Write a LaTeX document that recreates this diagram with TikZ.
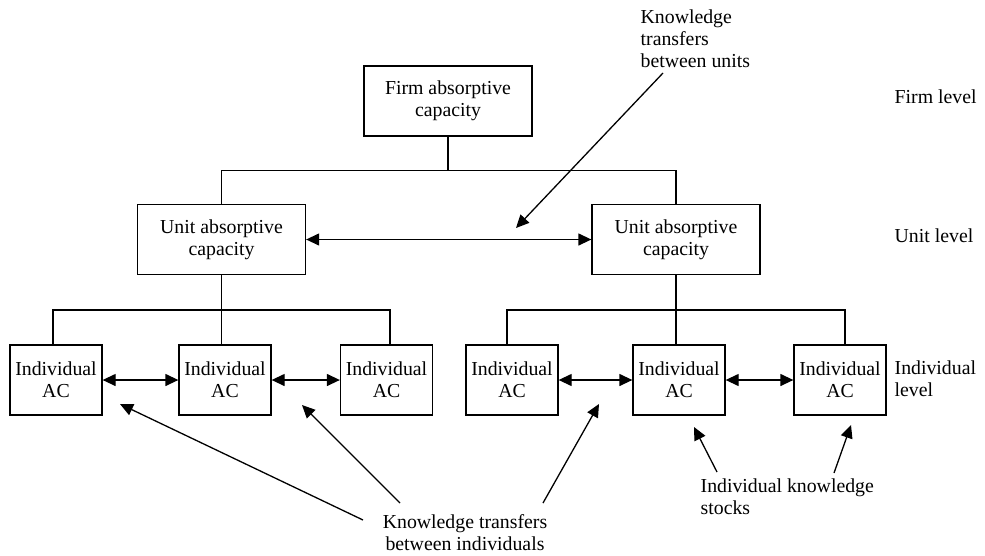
\documentclass[tikz,border=0pt]{standalone}
\usepackage{fontspec}
\setmainfont{Liberation Serif}
\usetikzlibrary{arrows.meta}
\begin{document}
\begin{tikzpicture}[x=1pt,y=-1pt,
  line width=1.3pt,
  every node/.style={font=\fontsize{19.8}{22}\selectfont, inner sep=0pt},
  bigbox/.style={draw, minimum width=168pt, minimum height=70pt, align=center},
  indbox/.style={draw, minimum width=92pt, minimum height=70pt, align=center},
  note/.style={align=left},
  tip/.style={-{Triangle[length=13pt,width=12pt]}},
  twotip/.style={{Triangle[length=13pt,width=12pt]}-{Triangle[length=13pt,width=12pt]}}
]
\useasboundingbox (0,0) rectangle (985,555);

% capacity boxes
\node[bigbox] (firm)  at (448,101)   {Firm absorptive\\capacity};
\node[bigbox] (unitL) at (221.5,239.5) {Unit absorptive\\capacity};
\node[bigbox] (unitR) at (676,239.5)   {Unit absorptive\\capacity};

\node[indbox] (i1) at (56,380)    {Individual\\AC};
\node[indbox] (i2) at (225,380)   {Individual\\AC};
\node[indbox] (i3) at (386.5,380) {Individual\\AC};
\node[indbox] (i4) at (512,380)   {Individual\\AC};
\node[indbox] (i5) at (679,380)   {Individual\\AC};
\node[indbox] (i6) at (840,380)   {Individual\\AC};

% level labels
\node[note, anchor=west] (lfirm) at (894,97)  {Firm level};
\node[note, anchor=west] (lunit) at (894,236) {Unit level};
\node[note, anchor=west] (lind)  at (894,379) {Individual\\level};

% annotations
\node[note, anchor=west] (ktu) at (640,38.5) {Knowledge\\transfers\\between units};
\node[align=center] (kti) at (465,533) {Knowledge transfers\\between individuals};
\node[note, anchor=west] (iks) at (700,497) {Individual knowledge\\stocks};

% hierarchy connectors
\coordinate (topbus) at (448,170.5);
\draw (firm.south) -- (topbus);
\draw (unitL.north) -- (unitL.north |- topbus) -- (unitR.north |- topbus) -- (unitR.north);

\coordinate (s1) at (53,310);
\coordinate (s3) at (390,310);
\coordinate (s4) at (507,310);
\coordinate (s6) at (845,310);
\draw (unitL.south) -- (unitL.south |- i2.north);
\draw (s1 |- i1.north) -- (s1) -- (s3) -- (s3 |- i3.north);
\draw (unitR.south) -- (unitR.south |- i5.north);
\draw (s4 |- i4.north) -- (s4) -- (s6) -- (s6 |- i6.north);

% knowledge transfers
\draw[twotip] (unitL.east) -- (unitR.west);
\draw[twotip] (i1.east) -- (i2.west);
\draw[twotip] (i2.east) -- (i3.west);
\draw[twotip] (i4.east) -- (i5.west);
\draw[twotip] (i5.east) -- (i6.west);

% pointers from annotations
\coordinate (a0) at (663,73);
\coordinate (t0) at (516,228);
\draw[tip] (a0) -- (t0);

\coordinate (a1) at (363,520);
\coordinate (t1) at (120,404);
\coordinate (a2) at (400,503);
\coordinate (t2) at (302,405);
\coordinate (a3) at (543,503);
\coordinate (t3) at (599,404);
\draw[tip] (a1) -- (t1);
\draw[tip] (a2) -- (t2);
\draw[tip] (a3) -- (t3);

\coordinate (a4) at (717,472);
\coordinate (t4) at (694,427);
\coordinate (a5) at (834,473);
\coordinate (t5) at (851,425);
\draw[tip] (a4) -- (t4);
\draw[tip] (a5) -- (t5);
\end{tikzpicture}
\end{document}
